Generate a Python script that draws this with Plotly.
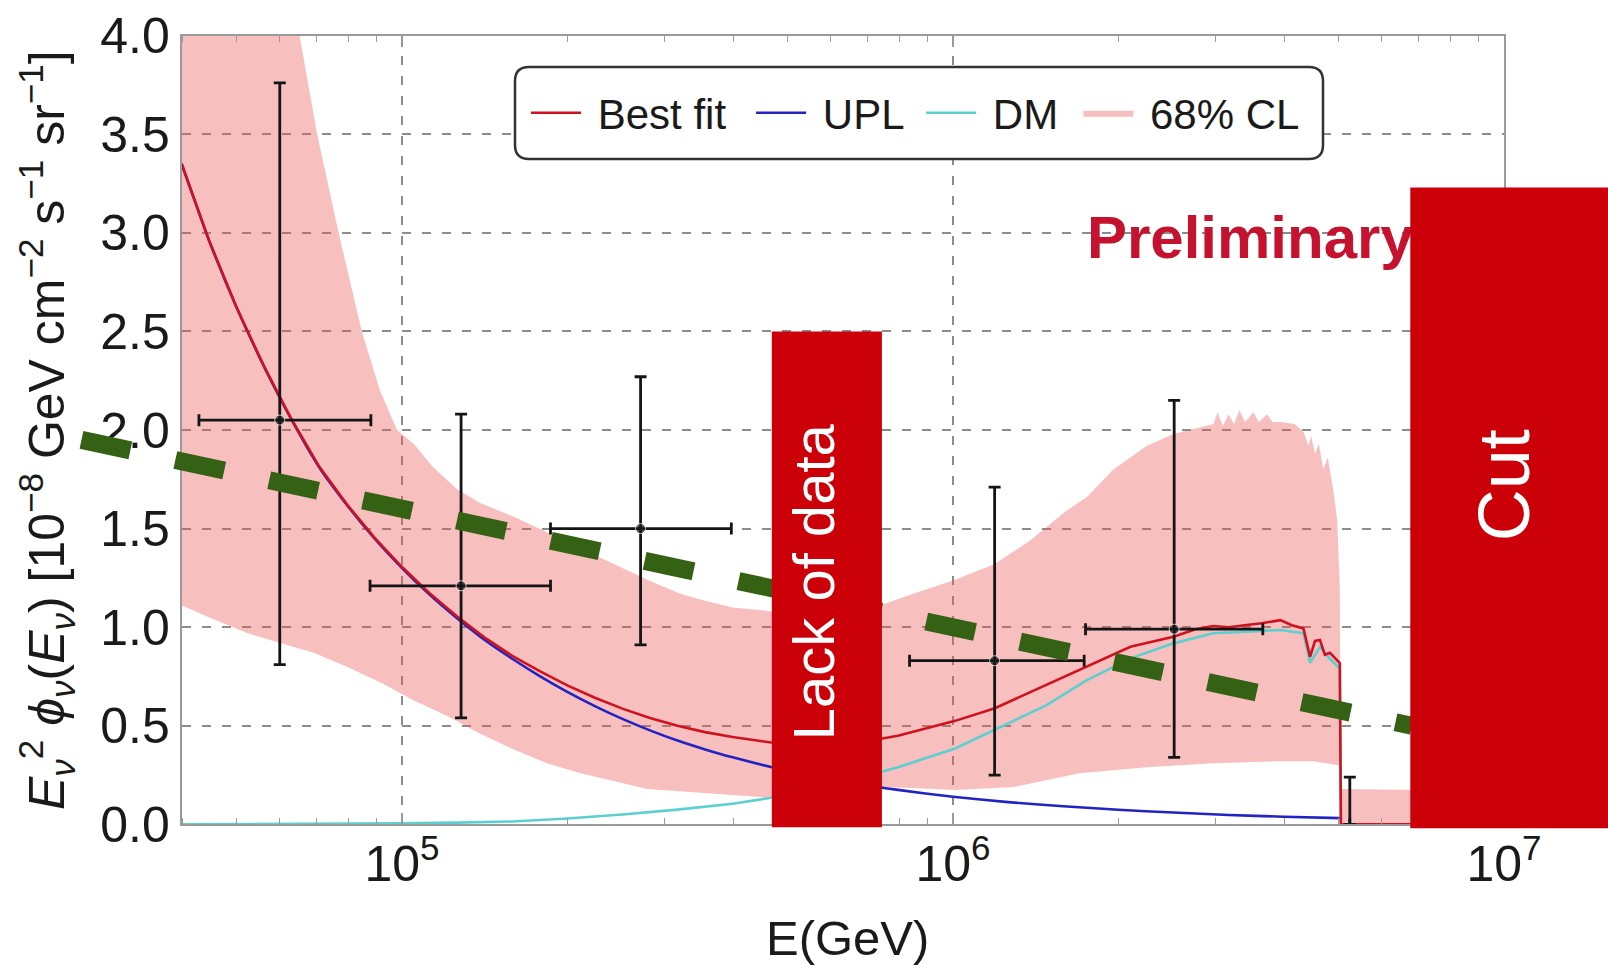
import numpy as np
import plotly.graph_objects as go

# ---------------------------------------------------------------- data
# 68% CL band (upper edge), x as log10(E/GeV)
band_hi_logE = [4.600, 4.800, 4.814, 4.846, 4.885, 4.927, 4.960, 4.991, 5.021, 5.057,
                5.100, 5.142, 5.203, 5.263, 5.324, 5.384, 5.445, 5.505, 5.541, 5.600,
                5.672, 5.770, 5.867, 5.928, 6.004, 6.076, 6.140, 6.206, 6.243, 6.291,
                6.352, 6.400, 6.442, 6.473, 6.480, 6.490, 6.500, 6.510, 6.520, 6.530,
                6.545, 6.555, 6.570, 6.580, 6.594, 6.620, 6.636, 6.645, 6.650, 6.657,
                6.664, 6.672, 6.680, 6.690, 6.697, 6.702, 6.704, 7.000]
band_hi_val = [4.30, 4.30, 4.00, 3.50, 3.00, 2.50, 2.20, 2.00, 1.93, 1.81,
               1.70, 1.63, 1.56, 1.48, 1.40, 1.32, 1.24, 1.17, 1.14, 1.10,
               1.08, 1.08, 1.11, 1.17, 1.24, 1.32, 1.44, 1.59, 1.66, 1.80,
               1.92, 1.98, 2.01, 2.03, 2.09, 2.02, 2.08, 2.03, 2.10, 2.04,
               2.09, 2.04, 2.08, 2.04, 2.04, 2.03, 1.99, 1.92, 1.97, 1.88,
               1.93, 1.80, 1.86, 1.70, 1.55, 1.20, 0.18, 0.17]
# 68% CL band (lower edge)
band_lo_logE = [4.600, 4.658, 4.719, 4.779, 4.840, 4.900, 4.961, 5.021, 5.082, 5.142,
                5.203, 5.263, 5.324, 5.384, 5.445, 5.541, 5.672, 5.770, 5.867, 5.928,
                6.004, 6.110, 6.230, 6.352, 6.473, 6.594, 6.654, 6.700, 6.704, 7.000]
band_lo_val = [1.11, 1.04, 0.97, 0.92, 0.87, 0.80, 0.72, 0.63, 0.55, 0.46,
               0.38, 0.31, 0.26, 0.22, 0.18, 0.16, 0.135, 0.15, 0.19, 0.185,
               0.175, 0.19, 0.26, 0.29, 0.31, 0.32, 0.32, 0.30, 0.0, 0.0]

# Best fit
fit_logE = [4.60, 4.65, 4.70, 4.75, 4.80, 4.85, 4.90, 4.95, 5.00, 5.05,
            5.10, 5.15, 5.20, 5.25, 5.30, 5.35, 5.40, 5.45, 5.50, 5.55,
            5.60, 5.67, 5.75, 5.82, 5.90, 6.004, 6.076, 6.170, 6.243, 6.322,
            6.400, 6.440, 6.472, 6.500, 6.533, 6.560, 6.594, 6.615, 6.636, 6.648,
            6.657, 6.666, 6.675, 6.684, 6.702, 6.704, 7.000]
fit_val = [3.35, 2.96, 2.62, 2.32, 2.052, 1.813, 1.623, 1.454, 1.305, 1.172,
           1.054, 0.947, 0.855, 0.777, 0.705, 0.642, 0.587, 0.540, 0.500, 0.468,
           0.443, 0.415, 0.400, 0.410, 0.450, 0.525, 0.589, 0.707, 0.800, 0.901,
           0.952, 0.99, 1.006, 1.00, 1.011, 1.02, 1.036, 1.01, 0.994, 0.85,
           0.93, 0.935, 0.86, 0.87, 0.818, 0.0, 0.0]

# UPL
upl_logE = [4.60, 4.65, 4.70, 4.75, 4.80, 4.85, 4.90, 4.95, 5.00, 5.05,
            5.10, 5.15, 5.20, 5.25, 5.30, 5.35, 5.40, 5.45, 5.50, 5.55,
            5.60, 5.70, 5.80, 5.90, 6.00, 6.10, 6.20, 6.30, 6.40, 6.50,
            6.60, 6.704]
upl_val = [3.35, 2.96, 2.62, 2.32, 2.05, 1.81, 1.62, 1.45, 1.30, 1.165,
           1.045, 0.935, 0.84, 0.752, 0.672, 0.600, 0.535, 0.477, 0.425, 0.380,
           0.340, 0.272, 0.218, 0.175, 0.140, 0.113, 0.092, 0.074, 0.060, 0.048,
           0.039, 0.032]

# DM
dm_logE = [4.600, 4.800, 5.000, 5.100, 5.200, 5.300, 5.400, 5.500, 5.550, 5.600,
           5.670, 5.750, 5.820, 5.900, 6.004, 6.076, 6.170, 6.243, 6.322, 6.400,
           6.472, 6.533, 6.594, 6.636, 6.648, 6.666, 6.684, 6.702, 6.704]
dm_val = [0.000, 0.002, 0.005, 0.009, 0.015, 0.030, 0.050, 0.075, 0.090, 0.105,
          0.135, 0.180, 0.228, 0.290, 0.385, 0.479, 0.605, 0.732, 0.842, 0.918,
          0.969, 0.977, 0.986, 0.970, 0.820, 0.900, 0.840, 0.790, 0.000]

# data points with errors (E in GeV)
pts_E = [6.0e4, 1.28e5, 2.71e5, 1.19e6, 2.52e6, 5.25e6]
pts_E_lo = [4.28e4, 8.75e4, 1.86e5, 8.34e5, 1.74e6, 5.25e6]
pts_E_hi = [8.78e4, 1.86e5, 3.96e5, 1.73e6, 3.65e6, 5.25e6]
pts_flux = [2.05, 1.21, 1.50, 0.83, 0.99, 0.00]
pts_flux_lo = [0.81, 0.54, 0.91, 0.25, 0.34, 0.00]
pts_flux_hi = [3.76, 2.08, 2.27, 1.71, 2.15, 0.24]
pts_marker = [10, 10, 10, 10, 10, 0]

# overlay annotations drawn on the slide
guide_E = [2.62e4, 6.80e6]
guide_flux = [1.95, 0.50]
lack_E = [4.69e5, 7.43e5]
lack_flux = [-0.015, 2.50]
cut_E = [6.76e6, 3.0e7]
cut_flux = [-0.02, 3.23]
prelim_E = [1.75e6]
prelim_flux = [2.95]

x_tick_vals = [1e5, 1e6, 1e7]
x_tick_text = ["10<sup>5</sup>", "10<sup>6</sup>", "10<sup>7</sup>"]

# ---------------------------------------------------------------- layout constants
W, H = 1608, 966
PX_L, PX_R, PX_T, PX_B = 181.6, 1504.0, 35.6, 824.4
XR = [4.6, 7.0]
YR = [0.0, 4.0]
ppd = (PX_R - PX_L) / (XR[1] - XR[0])
ppu = (PX_B - PX_T) / (YR[1] - YR[0])
X2R = [XR[0] - PX_L / ppd, XR[1] + (W - PX_R) / ppd]
Y2R = [YR[0] - (H - PX_B) / ppu, YR[1] + PX_T / ppu]

FONT = "Liberation Sans"
RED = "#D0121E"
BLUE = "#2323C4"
CYAN = "#5CCFCF"
BOX = "#CB0009"
GREEN = "#356115"
NB = "\u00a0"
TS = "\u2009"
HS = "\u200a"

def E(a):
    return [10 ** v for v in a]

fig = go.Figure()

# band
bx = E(band_hi_logE) + E(band_lo_logE)[::-1]
by = band_hi_val + band_lo_val[::-1]
fig.add_trace(go.Scatter(x=bx, y=by, mode="lines", fill="toself",
                         fillcolor="rgba(236,88,88,0.38)", line=dict(width=0),
                         name=NB + "68% CL", legendrank=4, hoverinfo="skip"))
fig.add_trace(go.Scatter(x=E(upl_logE), y=upl_val, mode="lines",
                         line=dict(color=BLUE, width=2.6, shape="spline", smoothing=0.5),
                         name=NB + "UPL" + NB, legendrank=2))
fig.add_trace(go.Scatter(x=E(dm_logE), y=dm_val, mode="lines",
                         line=dict(color=CYAN, width=2.6),
                         name=NB + "DM" + NB + HS, legendrank=3))
fig.add_trace(go.Scatter(x=E(fit_logE), y=fit_val, mode="lines",
                         line=dict(color=RED, width=2.6),
                         name=NB + "Best fit" + NB + TS, legendrank=1))

ex_p = [h - c for h, c in zip(pts_E_hi, pts_E)]
ex_m = [c - l for c, l in zip(pts_E, pts_E_lo)]
ey_p = [h - c for h, c in zip(pts_flux_hi, pts_flux)]
ey_m = [c - l for c, l in zip(pts_flux, pts_flux_lo)]
fig.add_trace(go.Scatter(x=pts_E, y=pts_flux, mode="markers",
                         marker=dict(color="#151515", size=pts_marker),
                         error_x=dict(type="data", array=ex_p, arrayminus=ex_m,
                                      color="#151515", thickness=2.8, width=6),
                         error_y=dict(type="data", array=ey_p, arrayminus=ey_m,
                                      color="#151515", thickness=2.8, width=6),
                         showlegend=False, cliponaxis=False))

# overlay subplot (whole page) for the slide decorations
fig.add_trace(go.Scatter(x=guide_E, y=guide_flux, mode="lines", xaxis="x2", yaxis="y2",
                         line=dict(color=GREEN, width=18, dash="50px,46px"),
                         showlegend=False))
fig.add_trace(go.Scatter(x=[lack_E[0], lack_E[1], lack_E[1], lack_E[0], lack_E[0]],
                         y=[lack_flux[0], lack_flux[0], lack_flux[1], lack_flux[1], lack_flux[0]],
                         mode="lines", fill="toself", fillcolor=BOX, line=dict(width=0),
                         xaxis="x2", yaxis="y2", showlegend=False))
fig.add_trace(go.Scatter(x=prelim_E, y=prelim_flux, mode="text", text=["<b>Preliminary</b>"],
                         textposition="middle right",
                         textfont=dict(family=FONT, size=60, color="#C4122F"),
                         xaxis="x2", yaxis="y2", showlegend=False))
fig.add_trace(go.Scatter(x=[cut_E[0], cut_E[1], cut_E[1], cut_E[0], cut_E[0]],
                         y=[cut_flux[0], cut_flux[0], cut_flux[1], cut_flux[1], cut_flux[0]],
                         mode="lines", fill="toself", fillcolor=BOX, line=dict(width=0),
                         xaxis="x2", yaxis="y2", showlegend=False))

AX = "#9a9a9a"
GRID = "#8c8c8c"
fig.update_layout(
    width=W, height=H,
    margin=dict(l=0, r=0, t=0, b=0, pad=0, autoexpand=False),
    paper_bgcolor="white", plot_bgcolor="rgba(0,0,0,0)",
    hovermode=False,
    font=dict(family=FONT, color="#1a1a1a"),
    xaxis=dict(type="log", range=XR, domain=[PX_L / W, PX_R / W], anchor="y",
               automargin=False,
               tickmode="array", tickvals=x_tick_vals, ticktext=x_tick_text,
               ticks="inside", ticklen=12, tickwidth=1.5, tickcolor=AX,
               minor=dict(ticks="inside", ticklen=7, tickwidth=1.3, tickcolor=AX,
                          dtick="D1", showgrid=False),
               showline=True, linecolor=AX, linewidth=1.6, mirror="ticks",
               showgrid=True, gridcolor=GRID, gridwidth=1.5, griddash="9px,11px",
               zeroline=False, ticklabelstandoff=-5,
               tickfont=dict(size=50, color="#1a1a1a")),
    yaxis=dict(range=YR, domain=[1 - PX_B / H, 1 - PX_T / H], anchor="x",
               automargin=False,
               tick0=0, dtick=0.5, tickformat=".1f", ticks="",
               showline=True, linecolor=AX, linewidth=1.6, mirror=True,
               showgrid=True, gridcolor=GRID, gridwidth=1.5, griddash="9px,11px",
               zeroline=False, tickfont=dict(size=50, color="#1a1a1a")),
    xaxis2=dict(type="log", range=X2R, domain=[0, 1], anchor="y2", visible=False,
                automargin=False),
    yaxis2=dict(range=Y2R, domain=[0, 1], anchor="x2", visible=False, automargin=False),
    showlegend=True,
    legend=dict(orientation="h", x=526 / W, y=1 - 113 / H, xanchor="left", yanchor="middle",
                font=dict(size=42, family=FONT, color="#1a1a1a"),
                bgcolor="rgba(0,0,0,0)", borderwidth=0, itemwidth=50),
)

# legend frame (rounded)
def X(p): return p / W
def Y(p): return 1 - p / H
x0, x1, y0, y1, r = 515, 1323, 67, 159, 14
path = (f"M {X(x0 + r)},{Y(y0)} L {X(x1 - r)},{Y(y0)} Q {X(x1)},{Y(y0)} {X(x1)},{Y(y0 + r)} "
        f"L {X(x1)},{Y(y1 - r)} Q {X(x1)},{Y(y1)} {X(x1 - r)},{Y(y1)} "
        f"L {X(x0 + r)},{Y(y1)} Q {X(x0)},{Y(y1)} {X(x0)},{Y(y1 - r)} "
        f"L {X(x0)},{Y(y0 + r)} Q {X(x0)},{Y(y0)} {X(x0 + r)},{Y(y0)} Z")
fig.add_shape(type="path", path=path, xref="paper", yref="paper",
              fillcolor="white", line=dict(color="#333333", width=2.5), layer="above")

# texts
fig.add_annotation(text="Lack of data", x=np.log10(5.58e5), y=1.23, xref="x2", yref="y2",
                   xanchor="center", yanchor="middle",
                   textangle=-90, showarrow=False,
                   font=dict(family=FONT, size=58, color="white"))
fig.add_annotation(text="Cut", x=7.0, y=1.72, xref="x2", yref="y2",
                   xanchor="center", yanchor="middle",
                   textangle=-90, showarrow=False,
                   font=dict(family=FONT, size=72, color="white"))
fig.add_annotation(text="E(GeV)", x=847 / W, y=1 - 938 / H, xref="paper", yref="paper",
                   xanchor="center", yanchor="middle",
                   showarrow=False, font=dict(family=FONT, size=49, color="#1a1a1a"))
fig.add_annotation(
    text=("<i>E</i><sub><i>ν</i></sub><sup>2</sup> <i>ϕ</i><sub><i>ν</i></sub>(<i>E</i><sub><i>ν</i></sub>)"
          " [10<sup>−8</sup> GeV cm<sup>−2</sup> s<sup>−1</sup> sr<sup>−1</sup>]"),
    x=46 / W, y=1 - 430 / H, xref="paper", yref="paper", textangle=-90, showarrow=False,
    xanchor="center", yanchor="middle",
    font=dict(family=FONT, size=50, color="#1a1a1a"))

fig.write_html("out.html")
